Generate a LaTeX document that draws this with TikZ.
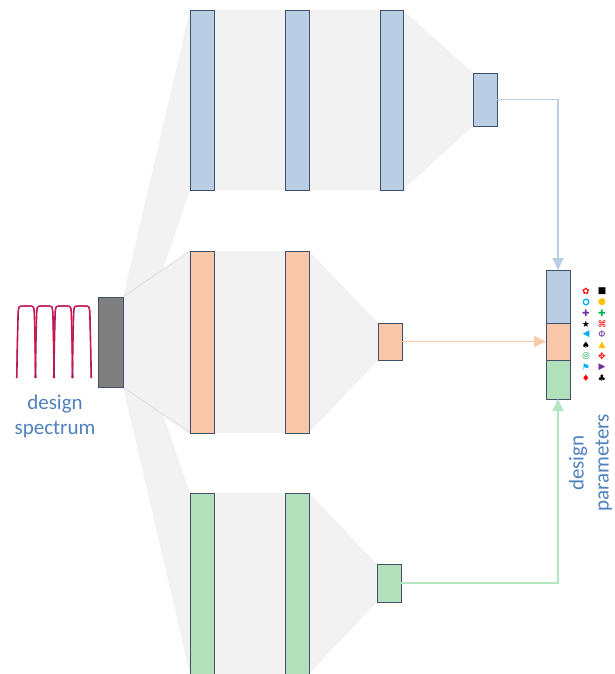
\documentclass[tikz,border=0pt]{standalone}
\usepackage{fontspec}
\setmainfont{Carlito}
\newfontfamily\symfont{DejaVu Sans}
\usetikzlibrary{arrows.meta}

\definecolor{fanfill}{HTML}{F2F2F2}
\definecolor{fanedge}{HTML}{DADADA}
\definecolor{boxedge}{HTML}{3F5068}
\definecolor{blueF}{HTML}{B9CDE5}
\definecolor{orangeF}{HTML}{F8C7A9}
\definecolor{greenF}{HTML}{B1E0BA}
\definecolor{grayF}{HTML}{7F7F7F}
\definecolor{blueA}{HTML}{B9CDE5}
\definecolor{orangeA}{HTML}{F8CBAD}
\definecolor{greenA}{HTML}{B4E5C0}
\definecolor{txtblue}{HTML}{4F81BD}
\definecolor{specred}{HTML}{E0103A}
\definecolor{specviolet}{HTML}{7030A0}
\definecolor{symred}{HTML}{FF0000}
\definecolor{symcyan}{HTML}{00B0F0}
\definecolor{sympurple}{HTML}{7030A0}
\definecolor{symgreen}{HTML}{00B050}
\definecolor{symorange}{HTML}{FFC000}

\tikzset{
  fan/.style={fill=fanfill},
  layer/.style={draw=boxedge, line width=0.9pt, inner sep=0pt, outer sep=0pt, anchor=north west},
  conn/.style={line width=1.8pt, -{Triangle[width=11pt,length=12pt]}},
  lbl/.style={text=txtblue, align=center, inner sep=0pt, font=\fontsize{21}{25}\selectfont},
  sym/.style={inner sep=0pt, font=\symfont\fontsize{9}{9}\selectfont},
}

\begin{document}
\begin{tikzpicture}[x=1pt, y=-1pt]
\useasboundingbox (0,0) rectangle (615,674);

% fans from the input block to the three branches
\fill[fan] (123,297) -- (190,10) -- (190,190) -- (123,387) -- cycle;
\fill[fan] (123,297) -- (190,493) -- (190,674) -- (123,387) -- cycle;
\filldraw[fan, draw=fanedge, line width=0.7pt] (123,297) -- (190,251) -- (190,433) -- (123,387) -- cycle;

% shaded bands of each branch
\fill[fan] (190,10) -- (403,10) -- (473,73) -- (473,126) -- (403,190) -- (190,190) -- cycle;
\fill[fan] (190,251) -- (309,251) -- (378,323) -- (378,360) -- (309,433) -- (190,433) -- cycle;
\fill[fan] (190,493) -- (309,493) -- (377,564) -- (377,602) -- (309,674) -- (190,674) -- cycle;

% input block
\node[layer, fill=grayF, minimum width=25pt, minimum height=90pt] (in) at (98,297) {};

% top branch
\node[layer, fill=blueF, minimum width=24pt, minimum height=180pt] (t1) at (190,10) {};
\node[layer, fill=blueF, minimum width=24pt, minimum height=180pt] (t2) at (285,10) {};
\node[layer, fill=blueF, minimum width=23pt, minimum height=180pt] (t3) at (380,10) {};
\node[layer, fill=blueF, minimum width=24pt, minimum height=53pt] (tS) at (473,73) {};

% middle branch
\node[layer, fill=orangeF, minimum width=24pt, minimum height=182pt] (m1) at (190,251) {};
\node[layer, fill=orangeF, minimum width=24pt, minimum height=182pt] (m2) at (285,251) {};
\node[layer, fill=orangeF, minimum width=24pt, minimum height=37pt] (mS) at (378,323) {};

% bottom branch
\node[layer, fill=greenF, minimum width=24pt, minimum height=181pt] (g1) at (190,493) {};
\node[layer, fill=greenF, minimum width=24pt, minimum height=181pt] (g2) at (285,493) {};
\node[layer, fill=greenF, minimum width=24pt, minimum height=38pt] (gS) at (377,564) {};

% output stack
\node[layer, fill=blueF, minimum width=24pt, minimum height=53pt] (outB) at (546,270) {};
\node[layer, fill=orangeF, minimum width=24pt, minimum height=37pt] (outO) at (546,323) {};
\node[layer, fill=greenF, minimum width=24pt, minimum height=39pt] (outG) at (546,360) {};

% connectors
\draw[conn, blueA] (tS.east) -| (outB.north);
\draw[conn, orangeA] (mS.east) -- (outO.west);
\draw[conn, greenA] (gS.east) -| (outG.south);

% spectrum sketch
\foreach \cx in {26,44.5,63,81.5} {
  \draw[specviolet, line width=1.3pt]
    (\cx-9.1,378) .. controls (\cx-8.4,340) .. (\cx-7.8,316) .. controls (\cx-7.4,306) .. (\cx-2.6,306)
    -- (\cx+3.4,306) .. controls (\cx+8.2,306) .. (\cx+8.6,316) .. controls (\cx+9.2,340) .. (\cx+9.9,378);
  \draw[specred, line width=1.1pt]
    (\cx-9.5,378) .. controls (\cx-8.8,340) .. (\cx-8.2,316) .. controls (\cx-7.8,306) .. (\cx-3,306)
    -- (\cx+3,306) .. controls (\cx+7.8,306) .. (\cx+8.2,316) .. controls (\cx+8.8,340) .. (\cx+9.5,378);
}

% labels
\node[lbl] (speclbl) at (55,416) {design\\spectrum};
\node[lbl, rotate=90] (parlbl) at (590.5,463) {design\\parameters};

% parameter symbols
\node[sym, text=symred]    (s1)  at (586,291) {✿};
\node[circle, draw=symcyan, line width=1.3pt, minimum size=5.6pt, inner sep=0pt] (s2) at (586,302) {};
\node[sym, text=sympurple] (s3)  at (586,313) {✚};
\node[sym, text=black]     (s4)  at (586,324) {★};
\node[sym, text=symcyan]   (s5)  at (586,334) {◀};
\node[sym, text=black]     (s6)  at (586,345) {♠};
\node[sym, text=symgreen]  (s7)  at (586,356) {◎};
\node[sym, text=symcyan]   (s8)  at (586,367) {⚑};
\node[sym, text=symred]    (s9)  at (586,378) {♦};
\node[sym, text=black]     (s10) at (602,291) {■};
\node[sym, text=symorange] (s11) at (602,302) {●};
\node[sym, text=symgreen]  (s12) at (602,313) {✚};
\node[sym, text=symred]    (s13) at (602,324) {⌘};
\node[sym, text=sympurple] (s14) at (602,334) {Φ};
\node[sym, text=symorange] (s15) at (602,345) {▲};
\node[sym, text=symred]    (s16) at (602,356) {✥};
\node[sym, text=sympurple] (s17) at (602,367) {▶};
\node[sym, text=black]     (s18) at (602,378) {♣};
\end{tikzpicture}
\end{document}
